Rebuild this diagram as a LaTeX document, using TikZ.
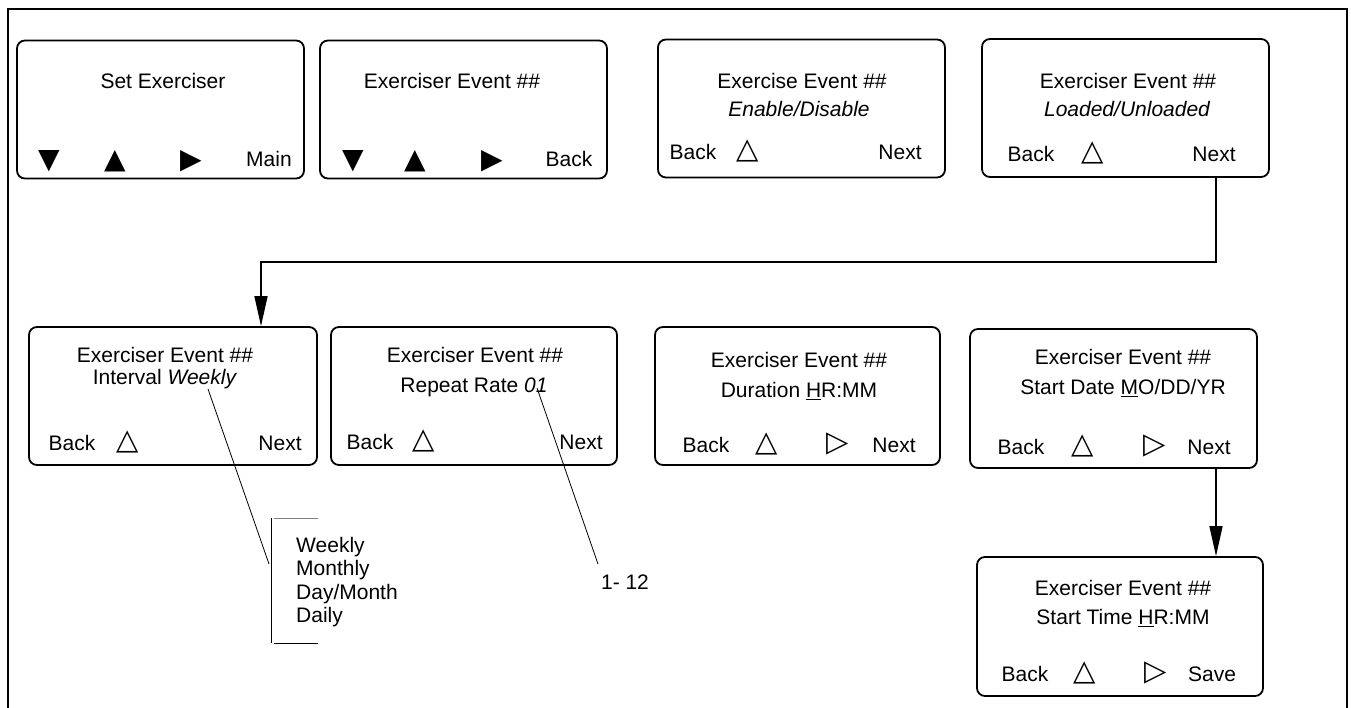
\documentclass[tikz,border=0pt]{standalone}
\usepackage{fontspec}
\setmainfont{Liberation Sans}
\newfontfamily\symfont{DejaVu Sans}
\usetikzlibrary{arrows.meta}
\newcommand{\uln}[1]{\leavevmode\vtop{\hbox{#1}\kern1.6pt\hrule height 1.3pt}}
\begin{document}
\begin{tikzpicture}[x=1pt,y=-1pt,
  scr/.style={draw, line width=1.8pt, rounded corners=8pt, minimum width=287pt, minimum height=138pt, inner sep=0pt},
  txt/.style={inner sep=0pt, font=\fontsize{21}{25}\selectfont, text height=15pt, text depth=0pt},
  sym/.style={inner sep=0pt, font=\symfont\fontsize{28}{32}\selectfont},
  hsym/.style={inner sep=0pt, font=\symfont\fontsize{29}{32}\selectfont},
  conn/.style={line width=1.5pt},
  arr/.style={conn, -{Triangle[length=30pt,width=13pt]}},
  lead/.style={line width=0.8pt}]
\useasboundingbox (0,0) rectangle (1351,708);
\draw[line width=2.5pt] (8,708) -- (8,9) -- (1347,9) -- (1347,708);

% row 1
\node[scr] (b1) at (160.5,109.5) {};
\node[scr] (b2) at (463.5,109.5) {};
\node[scr] (b3) at (801.5,108.5) {};
\node[scr] (b4) at (1125.5,108) {};
% row 2
\node[scr, minimum width=288pt] (b5) at (173,396) {};
\node[scr, minimum width=286pt] (b6) at (474,396) {};
\node[scr, minimum width=285pt] (b7) at (797.5,396) {};
\node[scr, minimum height=139pt] (b8) at (1113.5,398.5) {};
\node[scr, minimum width=286pt, minimum height=139pt] (b9) at (1120,626.5) {};

% box 1
\node[txt] (b1t) at (163,81) {Set Exerciser};
\node[sym] (b1s1) at (49,161) {▼};
\node[sym] (b1s2) at (115,161) {▲};
\node[sym] (b1s3) at (191,161) {▶};
\node[txt] (b1k) at (269,159) {Main};
% box 2
\node[txt] (b2t) at (452,81) {Exerciser Event \#\#};
\node[sym] (b2s1) at (353,161) {▼};
\node[sym] (b2s2) at (415,161) {▲};
\node[sym] (b2s3) at (492,161) {▶};
\node[txt] (b2k) at (569,159) {Back};
% box 3
\node[txt] (b3t) at (802,81) {Exercise Event \#\#};
\node[txt] (b3v) at (799,109) {\itshape Enable/Disable};
\node[txt] (b3b) at (693,152) {Back};
\node[hsym] (b3u) at (748,151) {△};
\node[txt] (b3n) at (900,152) {Next};
% box 4
\node[txt] (b4t) at (1128,81) {Exerciser Event \#\#};
\node[txt] (b4v) at (1127,109) {\itshape Loaded/Unloaded};
\node[txt] (b4b) at (1031,154) {Back};
\node[hsym] (b4u) at (1093,153) {△};
\node[txt] (b4n) at (1214,154) {Next};
% box 5
\node[txt] (b5t) at (165,355) {Exerciser Event \#\#};
\node[txt] (b5v) at (165,377) {Interval \textit{Weekly}};
\node[txt] (b5b) at (72,443) {Back};
\node[hsym] (b5u) at (127.5,442) {△};
\node[txt] (b5n) at (280,443) {Next};
% box 6
\node[txt] (b6t) at (475,355) {Exerciser Event \#\#};
\node[txt] (b6v) at (474,385) {Repeat Rate \textit{01}};
\node[txt] (b6b) at (370,442) {Back};
\node[hsym] (b6u) at (424,441) {△};
\node[txt] (b6n) at (581,442) {Next};
% box 7
\node[txt] (b7t) at (799,360) {Exerciser Event \#\#};
\node[txt] (b7v) at (799,390) {Duration \uln{H}R:MM};
\node[txt] (b7b) at (706,445) {Back};
\node[hsym] (b7u) at (767,444) {△};
\node[hsym] (b7r) at (838,444) {▷};
\node[txt] (b7n) at (894,445) {Next};
% box 8
\node[txt] (b8t) at (1123,357) {Exerciser Event \#\#};
\node[txt] (b8v) at (1123,387) {Start Date \uln{M}O/DD/YR};
\node[txt] (b8b) at (1021,447) {Back};
\node[hsym] (b8u) at (1083,446) {△};
\node[hsym] (b8r) at (1155,446) {▷};
\node[txt] (b8n) at (1209,447) {Next};
% box 9
\node[txt] (b9t) at (1123,588) {Exerciser Event \#\#};
\node[txt] (b9v) at (1123,617) {Start Time \uln{H}R:MM};
\node[txt] (b9b) at (1025,674) {Back};
\node[hsym] (b9u) at (1085,673) {△};
\node[hsym] (b9r) at (1156,673) {▷};
\node[txt] (b9n) at (1212,674) {Save};

% connectors
\coordinate (c1) at (1216,262);
\coordinate (c2) at (261,262);
\draw[arr] (b4.south -| c1) -- (c1) -- (c2) -- (b5.north -| c2);
\draw[arr] (b8.south -| c1) -- (b9.north -| c1);

% callouts
\coordinate (w1) at (208,389);
\coordinate (w2) at (269,564);
\draw[lead] (w1) -- (w2);
\coordinate (r1) at (537,388);
\coordinate (r2) at (598,564);
\draw[lead] (r1) -- (r2);
\coordinate (k1) at (271,518);
\coordinate (k2) at (271,643);
\draw[lead] (k1) -- (k2);
\draw[lead, gray] (274,518) -- (318,518);
\draw[lead] (274,643) -- (318,643);
\node[txt, text height=, text depth=, anchor=west, align=left, font=\fontsize{21}{23.6}\selectfont] (lst) at (296,582) {Weekly\\Monthly\\Day/Month\\Daily};
\node[txt] (rng) at (625,582) {1- 12};
\end{tikzpicture}
\end{document}
